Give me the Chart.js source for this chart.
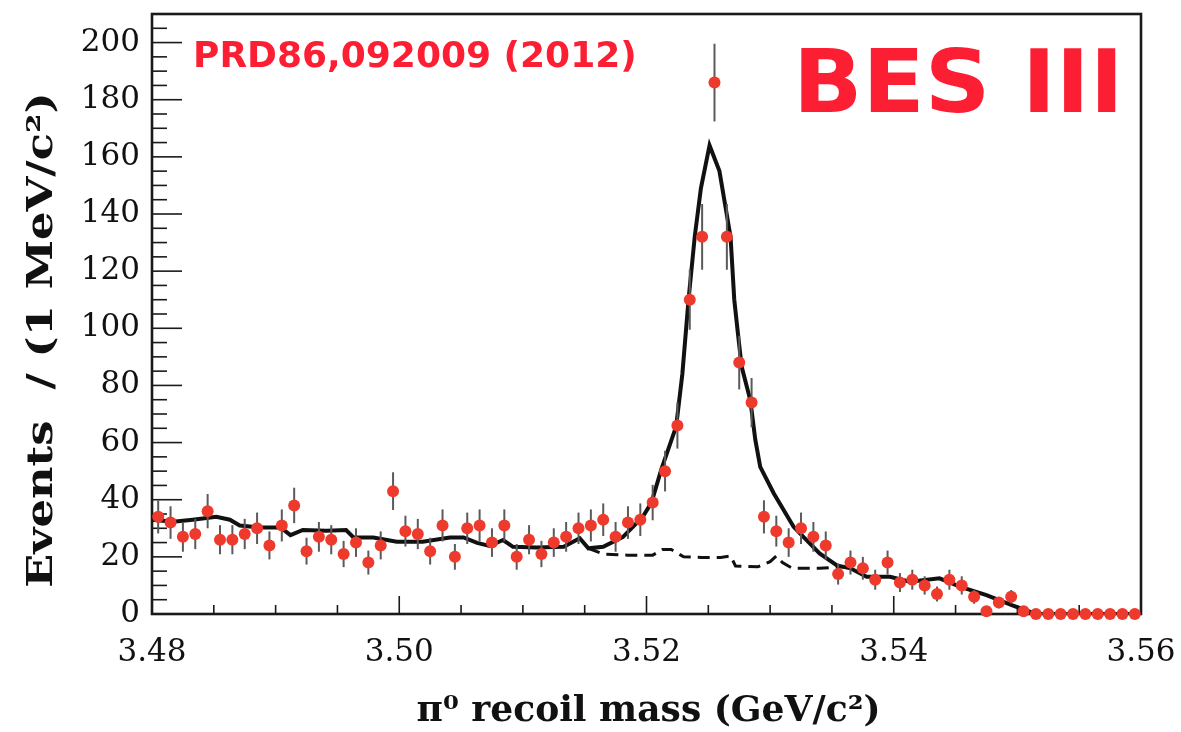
<!DOCTYPE html>
<html><head><meta charset="utf-8">
<script src="https://cdn.jsdelivr.net/npm/chart.js@4.4.1/dist/chart.umd.min.js"></script>
<style>html,body{margin:0;padding:0;background:#fff;}#wrap{width:1181px;height:732px;position:relative;}</style>
</head><body><div id="wrap"><canvas id="c" width="1181" height="732"></canvas></div>
<script>
// ---- data ----
const binCenters = [3.4805,3.4815,3.4825,3.4835,3.4845,3.4855,3.4865,3.4875,3.4885,3.4895,
  3.4905,3.4915,3.4925,3.4935,3.4945,3.4955,3.4965,3.4975,3.4985,3.4995,
  3.5005,3.5015,3.5025,3.5035,3.5045,3.5055,3.5065,3.5075,3.5085,3.5095,
  3.5105,3.5115,3.5125,3.5135,3.5145,3.5155,3.5165,3.5175,3.5185,3.5195,
  3.5205,3.5215,3.5225,3.5235,3.5245,3.5255,3.5265,3.5275,3.5285,3.5295,
  3.5305,3.5315,3.5325,3.5335,3.5345,3.5355,3.5365,3.5375,3.5385,3.5395,
  3.5405,3.5415,3.5425,3.5435,3.5445,3.5455,3.5465,3.5475,3.5485,3.5495,
  3.5505,3.5515,3.5525,3.5535,3.5545,3.5555,3.5565,3.5575,3.5585,3.5595];
const counts = [34,32,27,28,36,26,26,28,30,24,
  31,38,22,27,26,21,25,18,24,43,
  29,28,22,31,20,30,31,25,31,20,
  26,21,25,27,30,31,33,27,32,33,
  39,50,66,110,132,186,132,88,74,34,
  29,25,30,27,24,14,18,16,12,18,
  11,12,10,7,12,10,6,1,4,6,
  1,0,0,0,0,0,0,0,0,0];
const errors = [5.8,5.7,5.2,5.3,6.0,5.1,5.1,5.3,5.5,4.9,
  5.6,6.2,4.7,5.2,5.1,4.6,5.0,4.2,4.9,6.6,
  5.4,5.3,4.7,5.6,4.5,5.5,5.6,5.0,5.6,4.5,
  5.1,4.6,5.0,5.2,5.5,5.6,5.7,5.2,5.7,5.7,
  6.2,7.1,8.1,10.5,11.5,13.6,11.5,9.4,8.6,5.8,
  5.4,5.0,5.5,5.2,4.9,3.7,4.2,4.0,3.5,4.2,
  3.3,3.5,3.2,2.6,3.5,3.2,2.4,1.0,2.0,2.4,
  1.0,0,0,0,0,0,0,0,0,0];
const fitX = [3.4800,3.4817,3.4833,3.4852,3.4863,3.4871,3.4887,3.4904,3.4912,3.4922,
  3.4941,3.4957,3.4963,3.4979,3.4998,3.5019,3.5041,3.5052,3.5063,3.5073,
  3.5084,3.5092,3.5111,3.5133,3.5146,3.5153,3.5165,3.5181,3.5197,3.5204,
  3.5212,3.5224,3.5229,3.5234,3.5239,3.5244,3.5251,3.5259,3.5268,3.5271,
  3.5274,3.5277,3.5284,3.5288,3.5292,3.5303,3.5319,3.5340,3.5354,3.5365,
  3.5378,3.5397,3.5413,3.5437,3.5454,3.5475,3.5496,3.5510,3.5518,3.5600];
const fitY = [33,32.3,33,34,33,31,30.3,30.3,27.6,29.4,
  29.1,29.4,26.8,26.8,25.3,25.3,26.8,26.8,24.9,23.8,
  25.9,23.5,23.3,23.5,26.5,23,23.5,27,34,39,
  50.6,65.7,84,110,132,149,164,155,132,110,
  98,86.5,74.8,61,51.5,42.2,30.5,21.2,17,16,
  13,13,11.3,12.5,9.5,6.6,3,0.8,0,0];
const bkgX = [3.5153,3.5165,3.5185,3.5205,3.5213,3.5220,3.5230,3.5245,3.5260,3.5268,
  3.5272,3.5290,3.5300,3.5305,3.5310,3.5318,3.5340,3.5360];
const bkgY = [23,21,20.6,20.6,22.6,22.6,20,19.8,19.8,20.3,
  16.8,16.5,18.3,20.3,18,16,16,16.5];
const xTickValues = [3.48,3.50,3.52,3.54,3.56];
const xTickLabels = ['3.48','3.50','3.52','3.54','3.56'];
const yTickValues = [0,20,40,60,80,100,120,140,160,180,200];
const yTickLabels = ['0','20','40','60','80','100','120','140','160','180','200'];
const xTitle = 'π\u2070 recoil mass (GeV/c\u00B2)';
const yTitle = 'Events  / (1 MeV/c\u00B2)';
const noteRef = 'PRD86,092009 (2012)';
const noteExp = 'BES III';

// ---- styles ----
const RED = '#fc1e33';
const PT = '#ee3a2c';

const points = counts.map((v,i)=>({x:binCenters[i], y:v}));
const fitPts = fitY.map((v,i)=>({x:fitX[i], y:v}));
const bkgPts = bkgY.map((v,i)=>({x:bkgX[i], y:v}));

const errPlugin = {
  id:'errbars',
  beforeDatasetDraw(chart, args){
    if(args.index!==0) return;
    const {ctx, scales:{x,y}} = chart;
    ctx.save();
    ctx.strokeStyle='#5a5a5a'; ctx.lineWidth=2;
    counts.forEach((v,i)=>{
      if(!errors[i]) return;
      const px=x.getPixelForValue(binCenters[i]);
      ctx.beginPath();
      ctx.moveTo(px,y.getPixelForValue(v-errors[i]));
      ctx.lineTo(px,y.getPixelForValue(v+errors[i]));
      ctx.stroke();
    });
    ctx.restore();
  }
};

const framePlugin = {
  id:'frame',
  beforeDatasetsDraw(chart){
    const {ctx, chartArea:a, scales:{x,y}} = chart;
    ctx.save();
    ctx.strokeStyle='#1a1a1a';
    ctx.lineWidth=1.6;
    for(let v=0; v<=210; v+=5){
      const py=y.getPixelForValue(v);
      const len = (v%20===0)?30:15;
      ctx.beginPath(); ctx.moveTo(a.left,py); ctx.lineTo(a.left+len,py); ctx.stroke();
    }
    for(let k=0;k<=16;k++){
      const v=3.48+k*0.005;
      const px=x.getPixelForValue(v);
      const len=(k%4===0)?18:9;
      ctx.beginPath(); ctx.moveTo(px,a.bottom); ctx.lineTo(px,a.bottom-len); ctx.stroke();
    }
    ctx.lineWidth=2.6;
    ctx.strokeRect(a.left,a.top,a.right-a.left,a.bottom-a.top);
    ctx.restore();
  }
};

const textPlugin = {
  id:'texts',
  afterDraw(chart){
    const {ctx, chartArea:a} = chart;
    ctx.save();
    ctx.fillStyle=RED;
    ctx.textBaseline='alphabetic';
    ctx.textAlign='left';
    ctx.font='bold 36px "DejaVu Sans"';
    ctx.fillText(noteRef,193,67);
    ctx.save();
    ctx.translate(793,112);
    ctx.scale(1.035,1);
    ctx.font='bold 88px "DejaVu Sans"';
    ctx.fillText(noteExp,0,0);
    ctx.restore();
    // axis titles
    ctx.fillStyle='#111';
    ctx.font='bold 35px "DejaVu Serif"';
    ctx.textAlign='center';
    ctx.save();
    ctx.translate((a.left+a.right)/2+2,721);
    ctx.scale(1.03,1);
    ctx.fillText(xTitle,0,0);
    ctx.restore();
    ctx.save();
    ctx.translate(52,340);
    ctx.rotate(-Math.PI/2);
    ctx.scale(1.28,1);
    ctx.fillText(yTitle,0,0);
    ctx.restore();
    ctx.restore();
  }
};

new Chart(document.getElementById('c'),{
  data:{datasets:[
    {type:'scatter', data:points, pointRadius:6, pointHoverRadius:6, backgroundColor:PT, borderWidth:0, order:0, clip:false},
    {type:'line', data:fitPts, borderColor:'#111', borderWidth:4, pointRadius:0, tension:0, fill:false, order:1},
    {type:'line', data:bkgPts, borderColor:'#111', borderWidth:3, borderDash:[12,7], pointRadius:0, tension:0, fill:false, order:2}
  ]},
  options:{
    responsive:false, animation:false, devicePixelRatio:1,
    layout:{padding:{top:14,right:40,left:0,bottom:0}},
    plugins:{legend:{display:false}, tooltip:{enabled:false}},
    scales:{
      x:{type:'linear', min:3.48, max:3.56,
        afterBuildTicks:s=>{s.ticks=xTickValues.map(v=>({value:v}));},
        afterFit:s=>{s.height=118; s.paddingLeft=0; s.paddingRight=0;},
        grid:{display:false, drawTicks:false}, border:{display:false},
        ticks:{padding:20, color:'#111', font:{family:'"DejaVu Serif"', size:31},
          callback:(v)=>{const i=xTickValues.findIndex(t=>Math.abs(t-v)<1e-6);return i>=0?xTickLabels[i]:'';}}},
      y:{type:'linear', min:0, max:210,
        afterBuildTicks:s=>{s.ticks=yTickValues.map(v=>({value:v}));},
        afterFit:s=>{s.width=152; s.paddingTop=0; s.paddingBottom=0;},
        grid:{display:false, drawTicks:false}, border:{display:false},
        ticks:{padding:12, color:'#111', font:{family:'"DejaVu Serif"', size:31},
          callback:(v)=>{const i=yTickValues.indexOf(v);return i>=0?yTickLabels[i]:'';}}}
    }
  },
  plugins:[errPlugin, framePlugin, textPlugin]
});
</script></body></html>
